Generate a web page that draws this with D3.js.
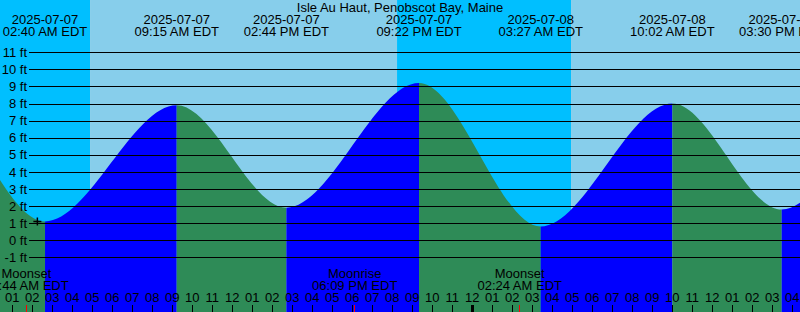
<!DOCTYPE html>
<html>
<head>
<meta charset="utf-8">
<script src="https://cdn.jsdelivr.net/npm/d3@7"></script>
<style>
  body { margin: 0; background: #fff; overflow: hidden; }
  text { font-family: "Liberation Sans", Arial, sans-serif; font-size: 13px; fill: #000; }
</style>
</head>
<body>
<div id="chart"></div>
<script>
// tide highs / lows (first and last pairs are off the picture, estimated)
var tideTimes = ["2025-07-06 14:10", "2025-07-06 20:28", "2025-07-07 02:40", "2025-07-07 09:15",
                 "2025-07-07 14:44", "2025-07-07 21:22", "2025-07-08 03:27", "2025-07-08 10:02",
                 "2025-07-08 15:30", "2025-07-08 21:55", "2025-07-09 04:10"];
var tideFeet  = [1.6, 9.2, 1.1, 7.9, 1.9, 9.2, 0.8, 8.0, 1.8, 8.9, 0.9];
var tideKind  = ["L", "H", "L", "H", "L", "H", "L", "H", "L", "H", "L"];

var sunTimes = ["2025-07-07 04:55", "2025-07-07 20:16", "2025-07-08 04:58"];
var sunKind  = ["rise", "set", "rise"];

var moonTimes = ["2025-07-07 01:44", "2025-07-07 18:09", "2025-07-08 02:24"];
var moonKind  = ["Moonset", "Moonrise", "Moonset"];

var nowTime = "2025-07-07 02:17";
var nowFeet = 1.1;

var feetTicks = [-1, 0, 1, 2, 3, 4, 5, 6, 7, 8, 9, 10, 11];
var title = "Isle Au Haut, Penobscot Bay, Maine";

var width = 800, height = 312;
var parse = d3.timeParse("%Y-%m-%d %H:%M");

var tides = tideTimes.map(function(t, i) {
    return {time: parse(t), feet: tideFeet[i], kind: tideKind[i]};
});

var svg = d3.select("#chart")
            .append("svg")
            .attr("width", width)
            .attr("height", height);

// 20 px per hour
var xScale = d3.scaleTime()
        .domain([parse("2025-07-07 00:00"), parse("2025-07-08 16:00")])
        .range([-8.3, 791.7]);

var yScale = d3.scaleLinear()
        .domain([-1, 11])
        .range([257.3, 52.3]);

// sky: night / day bands
var edges = [xScale.invert(-50)].concat(sunTimes.map(parse), [xScale.invert(900)]);
var bands = d3.pairs(edges).map(function(p, i) {
    var night = i == 0 ? sunKind[0] == "rise" : sunKind[i - 1] == "set";
    return {t0: p[0], t1: p[1], night: night};
});

svg.append("g")
    .selectAll("rect")
    .data(bands)
    .enter()
    .append("rect")
        .attr("x", d => xScale(d.t0))
        .attr("y", 0)
        .attr("width", d => xScale(d.t1) - xScale(d.t0))
        .attr("height", height)
        .attr("fill", d => d.night ? "#00bfff" : "#87ceeb");

// water area, coloured rising / falling
var area = d3.area()
    .x(d => xScale(d.time))
    .y0(height + 5)
    .y1(d => yScale(d.feet))
    .curve(d3.curveMonotoneX);

svg.append("clipPath")
    .attr("id", "water")
    .append("path")
        .attr("d", area(tides));

svg.append("g")
    .attr("clip-path", "url(#water)")
    .selectAll("rect")
    .data(d3.pairs(tides))
    .enter()
    .append("rect")
        .attr("x", d => xScale(d[0].time))
        .attr("y", 0)
        .attr("width", d => xScale(d[1].time) - xScale(d[0].time))
        .attr("height", height)
        .attr("fill", d => d[1].kind == "H" ? "#0000ff" : "#2e8b57");

// feet grid
var yAxis = d3.axisLeft(yScale)
    .tickValues(feetTicks)
    .tickSize(-(width - 29))
    .tickPadding(2)
    .tickFormat(d => d + " ft");

var yg = svg.append("g")
    .attr("transform", "translate(29,0)")
    .call(yAxis);
yg.select(".domain").remove();
yg.selectAll("line").attr("stroke", "#000").attr("shape-rendering", "crispEdges");
yg.attr("font-size", null).attr("font-family", null);

// current time marker
var nx = xScale(parse(nowTime)), ny = yScale(nowFeet);
svg.append("path")
    .attr("d", `M${nx - 4},${ny}H${nx + 4}M${nx},${ny - 4}V${ny + 4}`)
    .attr("stroke", "#000")
    .attr("stroke-width", 1.5);

// tide time labels across the top (only the ones inside the picture)
var fDate = d3.timeFormat("%Y-%m-%d");
var fTime = d3.timeFormat("%I:%M %p EDT");
var shown = tides.filter(d => xScale(d.time) > 0 && xScale(d.time) < width);

var topLabels = svg.append("g")
    .selectAll("text")
    .data(shown)
    .enter()
    .append("text")
        .attr("text-anchor", "middle");
topLabels.append("tspan")
    .attr("x", d => xScale(d.time))
    .attr("y", 24)
    .text(d => fDate(d.time));
topLabels.append("tspan")
    .attr("x", d => xScale(d.time))
    .attr("y", 36)
    .text(d => fTime(d.time));

svg.append("text")
    .attr("x", width / 2)
    .attr("y", 12)
    .attr("text-anchor", "middle")
    .text(title);

// moon rise / set
var moons = moonTimes.map(function(t, i) { return {time: parse(t), kind: moonKind[i]}; });

var moonLabels = svg.append("g")
    .selectAll("text")
    .data(moons)
    .enter()
    .append("text")
        .attr("text-anchor", "middle");
moonLabels.append("tspan")
    .attr("x", d => Math.max(xScale(d.time), 25))
    .attr("y", 278)
    .text(d => d.kind);
moonLabels.append("tspan")
    .attr("x", d => xScale(d.time))
    .attr("y", 290)
    .text(d => fTime(d.time));

// hour axis along the bottom
var xAxis = d3.axisTop(xScale)
    .ticks(d3.timeHour.every(1))
    .tickSize(7)
    .tickPadding(3)
    .tickFormat(d3.timeFormat("%I"));

var xg = svg.append("g")
    .attr("transform", `translate(0,${height})`)
    .call(xAxis);
xg.select(".domain").remove();
xg.attr("font-size", null).attr("font-family", null);
xg.selectAll("line")
    .attr("stroke", "#000")
    .attr("shape-rendering", "crispEdges")
    .attr("stroke-width", d => d.getHours() == 0 ? 3 : 1);

svg.append("g")
    .selectAll("line")
    .data(moons)
    .enter()
    .append("line")
        .attr("x1", d => xScale(d.time))
        .attr("x2", d => xScale(d.time))
        .attr("y1", height - 7)
        .attr("y2", height)
        .attr("stroke", "red")
        .attr("shape-rendering", "crispEdges");
</script>
</body>
</html>
